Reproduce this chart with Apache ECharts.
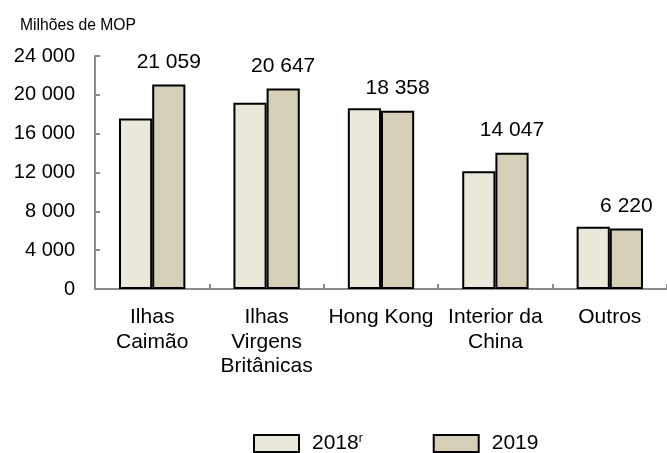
<!DOCTYPE html>
<html>
<head>
<meta charset="utf-8">
<script src="https://cdn.jsdelivr.net/npm/echarts@6/dist/echarts.min.js"></script>
<style>
  html, body { margin: 0; padding: 0; background: #fff; }
  #chart { width: 667px; height: 453px; }
</style>
</head>
<body>
<div id="chart"></div>
<script>
// categories and values
const categories = ["Ilhas\nCaimão", "Ilhas\nVirgens\nBritânicas", "Hong Kong", "Interior da\nChina", "Outros"];
const values2018 = [17550, 19190, 18630, 12130, 6400];
const values2019 = [21059, 20647, 18358, 14047, 6220];
const yTicks = [0, 4000, 8000, 12000, 16000, 20000, 24000];

const font = "Liberation Sans, Arial, sans-serif";
const fmt = (v) => String(v).replace(/\B(?=(\d{3})+(?!\d))/g, " ");

const chart = echarts.init(document.getElementById("chart"));
chart.setOption({
	animation: false,
	textStyle: { fontFamily: font },
	graphic: [{
		type: "text",
		left: 20,
		top: 18,
		style: { text: "Milhões de MOP", fontSize: 15.7, fontFamily: font, fill: "#000" }
	}],
	grid: { left: 95, right: -8, top: 56, bottom: 164 },
	legend: {
		left: 248,
		top: 428,
		itemWidth: 45,
		itemHeight: 17,
		itemGap: 70,
		icon: "rect",
		textStyle: {
			fontSize: 21,
			color: "#000",
			padding: [0, 0, 0, 8],
			rich: {
				a: { fontSize: 21, fontFamily: font, color: "#000" },
				s: { fontSize: 12, fontFamily: font, color: "#000", verticalAlign: "top", padding: [0, 0, 8, 0] }
			}
		},
		formatter: function(name) {
			return name === "2018" ? "{a|2018}{s|r}" : "{a|" + name + "}";
		}
	},
	xAxis: {
		type: "category",
		data: categories,
		axisLine: { lineStyle: { color: "#8c8c8c", width: 2 } },
		axisTick: { show: true, inside: true, length: 5, lineStyle: { color: "#8c8c8c", width: 2 } },
		axisLabel: { fontSize: 21, color: "#000", lineHeight: 24.5, margin: 16, interval: 0 }
	},
	yAxis: {
		type: "value",
		min: 0,
		max: yTicks[yTicks.length - 1],
		interval: 4000,
		axisLine: { show: true, lineStyle: { color: "#8c8c8c", width: 2 } },
		axisTick: { show: true, inside: true, length: 5, lineStyle: { color: "#8c8c8c", width: 2 } },
		splitLine: { show: false },
		axisLabel: { fontSize: 20, color: "#000", margin: 20, formatter: fmt }
	},
	series: [{
		name: "2018",
		type: "bar",
		data: values2018,
		barGap: "0%",
		barCategoryGap: "42%",
		itemStyle: { color: "#eae8da", borderColor: "#000", borderWidth: 2 }
	}, {
		name: "2019",
		type: "bar",
		data: values2019,
		barGap: "0%",
		barCategoryGap: "42%",
		itemStyle: { color: "#d5cfb7", borderColor: "#000", borderWidth: 2 },
		label: {
			show: true,
			position: "top",
			distance: 12,
			fontSize: 21,
			color: "#000",
			formatter: (p) => fmt(p.value)
		}
	}]
});
</script>
</body>
</html>
